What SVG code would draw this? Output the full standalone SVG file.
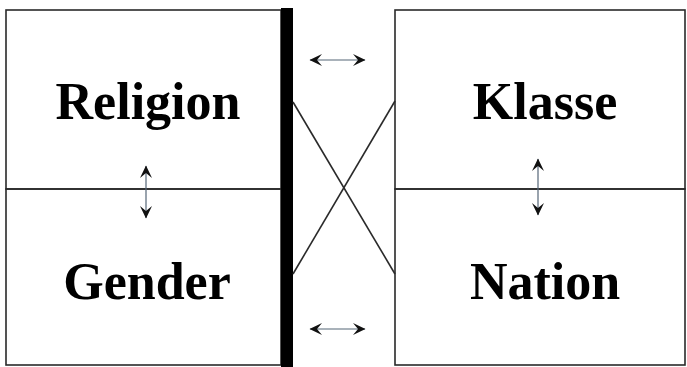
<svg xmlns="http://www.w3.org/2000/svg" width="687" height="367" viewBox="0 0 687 367">
<style>
.box{fill:none;stroke:#2a2a2a;stroke-width:1.6}
.lbl{font-family:"Liberation Serif","Times New Roman",serif;font-weight:bold;font-size:52px;fill:#000;text-anchor:middle}
.arr{stroke:#556677;stroke-width:1.2;fill:none;marker-start:url(#ah);marker-end:url(#ah)}
.cross{stroke:#2a2a2a;stroke-width:1.6;fill:none}
</style>
<defs>
<marker id="ah" viewBox="0 0 14 14" refX="13" refY="7" markerWidth="14" markerHeight="14" markerUnits="userSpaceOnUse" orient="auto-start-reverse">
<path d="M1,1 L13.5,7 L1,13 L6,7 Z" fill="#111"/>
</marker>
</defs>
<rect x="0" y="0" width="687" height="367" fill="#fff"/>
<g id="religion">
<rect class="box" x="6" y="10" width="275" height="179"/>
<text class="lbl" x="148" y="119">Religion</text>
</g>
<g id="gender">
<rect class="box" x="6" y="189" width="275" height="176"/>
<text class="lbl" x="147" y="299">Gender</text>
</g>
<rect id="bar" x="281" y="8" width="12" height="359" fill="#000"/>
<g id="klasse">
<rect class="box" x="395" y="10" width="290" height="179"/>
<text class="lbl" x="545" y="119">Klasse</text>
</g>
<g id="nation">
<rect class="box" x="395" y="189" width="290" height="176"/>
<text class="lbl" x="545" y="299">Nation</text>
</g>
<g id="connectors">
<line class="cross" x1="293" y1="102" x2="395" y2="274"/>
<line class="cross" x1="293" y1="274" x2="395" y2="101"/>
<line class="arr" x1="310" y1="60" x2="365" y2="60"/>
<line class="arr" x1="310" y1="329" x2="365" y2="329"/>
<line class="arr" x1="146" y1="166" x2="146" y2="218"/>
<line class="arr" x1="538" y1="159" x2="538" y2="215"/>
</g>
</svg>
